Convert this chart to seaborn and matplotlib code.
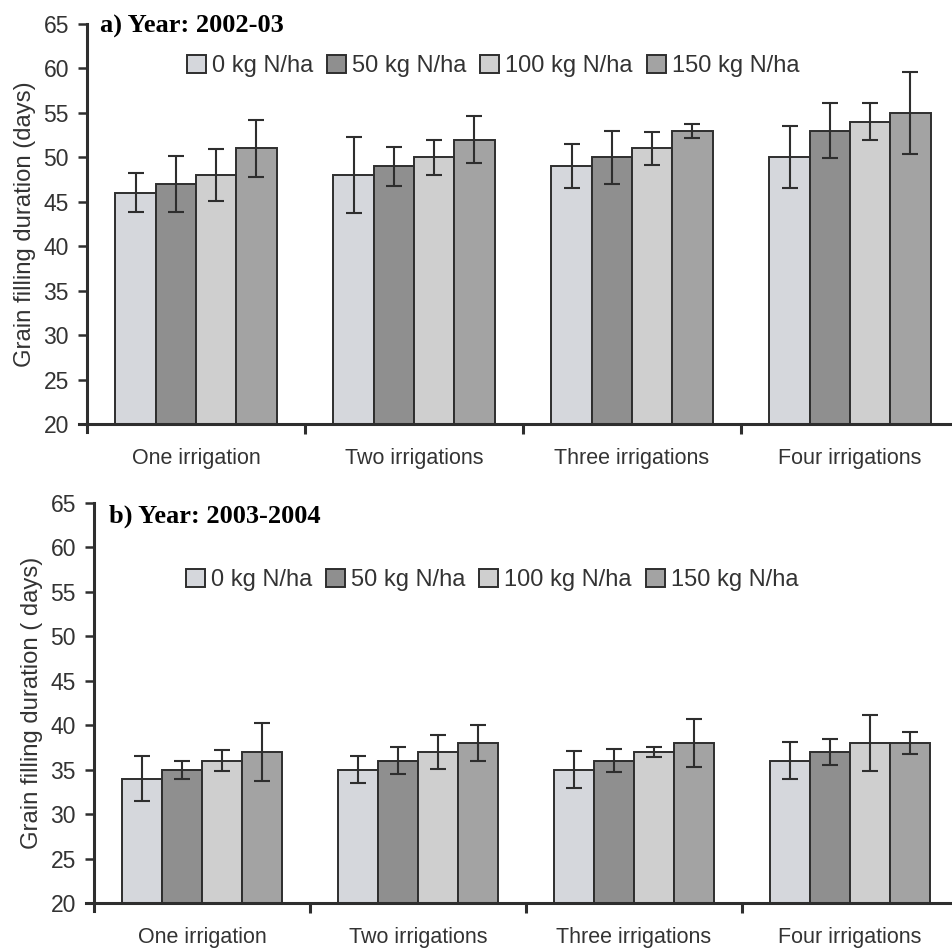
import matplotlib
matplotlib.use("Agg")
import matplotlib.pyplot as plt
import seaborn as sns
import pandas as pd
from matplotlib.patches import Patch

irrigations = ["One irrigation", "Two irrigations", "Three irrigations", "Four irrigations"]
nitrogen = ["0 kg N/ha", "50 kg N/ha", "100 kg N/ha", "150 kg N/ha"]

# Panel a) 2002-03 : rows = irrigation, cols = nitrogen
a_values = [[46, 47, 48, 51],
            [48, 49, 50, 52],
            [49, 50, 51, 53],
            [50, 53, 54, 55]]
a_errors = [[2.2, 3.1, 2.9, 3.2],
            [4.3, 2.2, 2.0, 2.6],
            [2.5, 3.0, 1.9, 0.8],
            [3.5, 3.1, 2.1, 4.6]]

# Panel b) 2003-2004
b_values = [[34, 35, 36, 37],
            [35, 36, 37, 38],
            [35, 36, 37, 38],
            [36, 37, 38, 38]]
b_errors = [[2.5, 1.0, 1.2, 3.3],
            [1.5, 1.5, 1.9, 2.0],
            [2.1, 1.3, 0.6, 2.7],
            [2.1, 1.5, 3.2, 1.2]]

bar_colors = ["#d5d7dc", "#8f8f8f", "#cfcfcf", "#a3a3a3"]
ink = "#2e2e2e"

sns.set_style("white")
plt.rcParams["font.family"] = ["Liberation Sans", "DejaVu Sans"]

fig = plt.figure(figsize=(9.53, 9.51), dpi=100)
W, H = 953, 951


def make_df(values):
    rows = []
    for i, irr in enumerate(irrigations):
        for j, n in enumerate(nitrogen):
            rows.append({"irr": irr, "N": n, "v": values[i][j]})
    return pd.DataFrame(rows)


def panel(left_px, bottom_px, group_px, values, errors, title, title_xy, ylabel, leg_xy, xpad):
    width_px = W - left_px
    ax = fig.add_axes([left_px / W, 1 - bottom_px / H, width_px / W, 400 / H])
    df = make_df(values)
    sns.barplot(data=df, x="irr", y="v", hue="N", order=irrigations, hue_order=nitrogen,
                palette=bar_colors, width=0.74, edgecolor=ink, linewidth=1.4,
                errorbar=None, legend=False, ax=ax, saturation=1)
    bar_containers = list(ax.containers)
    for j, cont in enumerate(bar_containers):
        xs = [p.get_x() + p.get_width() / 2 for p in cont.patches]
        ax.errorbar(xs, [values[i][j] for i in range(4)],
                    yerr=[errors[i][j] for i in range(4)], fmt="none",
                    ecolor=ink, elinewidth=1.5, capsize=6, capthick=1.5, zorder=5)
    ax.set_ylim(20, 65)
    xmax = -0.5 + width_px / group_px
    ax.set_xlim(-0.5, xmax)
    ax.set_yticks(range(20, 66, 5))
    ax.tick_params(axis="y", left=True, labelsize=16.5, length=6.5, width=1.8, color=ink,
                   labelcolor="#333333", direction="out", pad=6.5)
    ax.tick_params(axis="x", which="major", bottom=False, labelsize=15.5, length=0, pad=xpad,
                   labelcolor="#333333")
    ax.set_xticks([0.5, 1.5, 2.5], minor=True)
    ax.tick_params(axis="x", which="minor", bottom=True, length=7, width=2.2, color=ink,
                   direction="out")
    ax.set_xlabel("")
    ax.set_ylabel(ylabel, fontsize=17.2, color="#333333", labelpad=5)
    for s in ["top", "right"]:
        ax.spines[s].set_visible(False)
    for s in ["left", "bottom"]:
        ax.spines[s].set_color(ink)
        ax.spines[s].set_linewidth(2.2)
    ax.spines["left"].set_bounds(20 - 8 / 400 * 45, 65)
    ax.spines["bottom"].set_bounds(-0.5 - 8 / group_px, xmax)
    ax.text(title_xy[0], title_xy[1], title, fontsize=19, fontweight="bold",
            family=["Liberation Serif", "DejaVu Serif"], va="center", ha="left",
            color="black")
    handles = [Patch(facecolor=c, edgecolor=ink, linewidth=1.4) for c in bar_colors]
    fig.legend(handles, nitrogen, loc="center", bbox_to_anchor=(leg_xy[0] / W, 1 - leg_xy[1] / H),
               ncol=4, frameon=False, fontsize=17, handlelength=0.8, handleheight=0.8,
               handletextpad=0.25, columnspacing=0.6, labelcolor="#333333")
    return ax


panel(87, 424, 218, a_values, a_errors, "a) Year: 2002-03", (-0.44, 64.75),
      "Grain filling duration (days)", (493, 66), 17)
panel(94, 903, 216, b_values, b_errors, "b) Year: 2003-2004", (-0.43, 63.45),
      "Grain filling duration ( days)", (492, 580), 17.5)

fig.savefig("out.png", dpi=100)
